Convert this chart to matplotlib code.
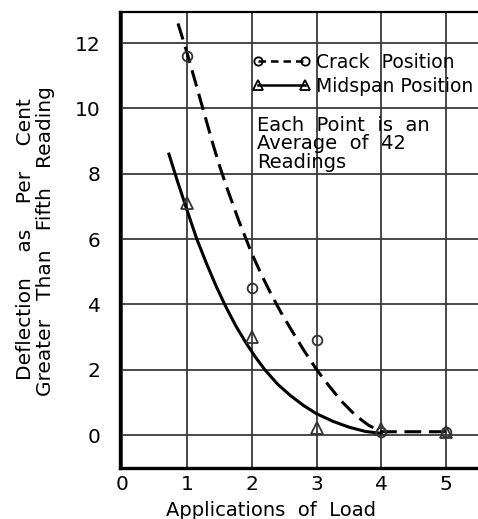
import matplotlib
matplotlib.use("Agg")
import matplotlib.pyplot as plt

# Data points
applications = [1, 2, 3, 4, 5]
crack_points = [11.6, 4.5, 2.9, 0.1, 0.1]
midspan_points = [7.1, 3.0, 0.2, 0.18, 0.08]

# Hand-drawn fitted curves
crack_curve_x = [0.86, 1.0, 1.1, 1.2, 1.3, 1.4, 1.5, 1.6, 1.7, 1.8, 1.9, 2.0, 2.15,
                 2.3, 2.45, 2.6, 2.8, 3.0, 3.2, 3.4, 3.6, 3.8, 4.0, 5.0]
crack_curve_y = [12.6, 11.7, 11.0, 10.3, 9.6, 8.9, 8.25, 7.65, 7.1, 6.55, 6.05, 5.55, 4.9,
                 4.3, 3.75, 3.25, 2.6, 2.0, 1.48, 1.0, 0.6, 0.3, 0.1, 0.1]
mid_curve_x = [0.72, 0.85, 1.0, 1.15, 1.3, 1.45, 1.6, 1.75, 1.9, 2.05, 2.2, 2.4, 2.6,
               2.8, 3.0, 3.25, 3.5, 3.75, 4.0]
mid_curve_y = [8.6, 7.78, 6.88, 6.0, 5.25, 4.55, 3.92, 3.35, 2.85, 2.4, 2.0, 1.55, 1.2,
               0.9, 0.65, 0.42, 0.24, 0.11, 0.05]

x_ticks = [0, 1, 2, 3, 4, 5]
y_ticks = [0, 2, 4, 6, 8, 10, 12]

W, H = 478, 519
fig = plt.figure(figsize=(W / 100, H / 100), dpi=100)
ax = fig.add_axes([120 / W, (H - 468) / H, (W - 120) / W, (468 - 12) / H])

ax.set_xlim(-0.035, 5.49)
ax.set_ylim(-1.01, 12.95)
ax.set_xticks(x_ticks)
ax.set_yticks(y_ticks)
ax.grid(True, color="#3a3a3a", linewidth=1.3)
ax.set_axisbelow(True)
ax.tick_params(length=0, labelsize=14.5)
ax.tick_params(axis="y", pad=14)
ax.tick_params(axis="x", pad=5)
for s in ["left", "bottom"]:
    ax.spines[s].set_linewidth(2.4)
ax.spines["top"].set_linewidth(1.6)
ax.spines["right"].set_visible(False)

ax.plot(crack_curve_x, crack_curve_y, color="black", lw=2.2, ls=(0, (5.5, 2.5)))
ax.plot(mid_curve_x, mid_curve_y, color="black", lw=2.2, solid_joinstyle="round")
ax.plot(applications, crack_points, ls="none", marker="o", ms=7, mfc="none",
        mec="#333333", mew=1.3)
ax.plot(applications, midspan_points, ls="none", marker="^", ms=8.5, mfc="none",
        mec="#333333", mew=1.3)

# Legend
h1, = ax.plot([], [], color="black", lw=1.8, ls=(0, (3, 2)), marker="o", ms=6,
              mfc="none", mec="black", mew=1.3)
h2, = ax.plot([], [], color="black", lw=1.8, marker="^", ms=7.5,
              mfc="none", mec="black", mew=1.3)
leg = fig.legend([h1, h2], ["Crack  Position", "Midspan Position"],
                 loc="upper left", bbox_to_anchor=(252 / W, 1 - 53 / H),
                 frameon=False, numpoints=2, handlelength=3.1,
                 handletextpad=0.3, labelspacing=0.25, borderpad=0,
                 borderaxespad=0, fontsize=13.5)

fig.text(257 / W, 1 - 116 / H, "Each  Point  is  an\nAverage  of  42\nReadings",
         fontsize=14, va="top", ha="left", linespacing=0.95)

fig.text(271 / W, 1 - 510 / H, "Applications  of  Load", fontsize=14,
         ha="center", va="center")
fig.text(26 / W, 1 - 239 / H, "Deflection    as    Per    Cent", rotation=90,
         fontsize=14.5, ha="center", va="center")
fig.text(46 / W, 1 - 241 / H, "Greater   Than   Fifth   Reading", rotation=90,
         fontsize=14.5, ha="center", va="center")

fig.savefig("out.png", dpi=100)
